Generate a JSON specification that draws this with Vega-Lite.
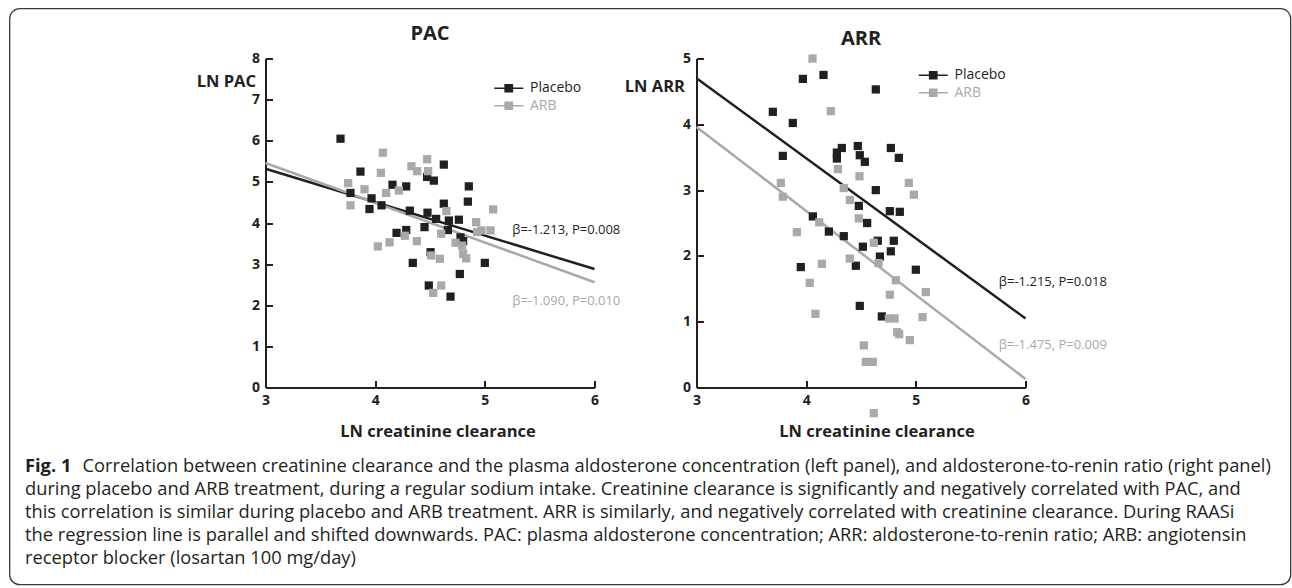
{
  "$schema": "https://vega.github.io/schema/vega-lite/v6.json",
  "autosize": {"type": "pad"},
  "padding": {"left": 8.5, "top": 7.5, "right": 1, "bottom": 3},
  "background": "white",
  "config": {
    "view": {"stroke": null},
    "font": "Open Sans",
    "axis": {
      "domainColor": "#231f20", "domainWidth": 2,
      "tickColor": "#231f20", "tickWidth": 2, "tickSize": -7,
      "labelPadding": 13, "labelFont": "Open Sans", "labelFontWeight": "bold",
      "labelFontSize": 14, "labelColor": "#231f20", "labelFlush": false, "labelOverlap": false,
      "grid": false, "titleFont": "Open Sans", "titleFontWeight": "bold",
      "titleFontSize": 16.5, "titleColor": "#231f20"
    }
  },
  "datasets": {
    "caption": [
      {"part": "bold", "line": 0, "text": "Fig. 1"},
      {"part": "first", "line": 0, "text": "Correlation between creatinine clearance and the plasma aldosterone concentration (left panel), and aldosterone-to-renin ratio (right panel)"},
      {"part": "rest", "line": 1, "text": "during placebo and ARB treatment, during a regular sodium intake. Creatinine clearance is significantly and negatively correlated with PAC, and"},
      {"part": "rest", "line": 2, "text": "this correlation is similar during placebo and ARB treatment. ARR is similarly, and negatively correlated with creatinine clearance. During RAASi"},
      {"part": "rest", "line": 3, "text": "the regression line is parallel and shifted downwards. PAC: plasma aldosterone concentration; ARR: aldosterone-to-renin ratio; ARB: angiotensin"},
      {"part": "rest", "line": 4, "text": "receptor blocker (losartan 100 mg/day)"}
    ],
    "pac": [
      {"group": "Placebo", "clearance": 3.684, "value": 6.05},
      {"group": "Placebo", "clearance": 3.866, "value": 5.25},
      {"group": "Placebo", "clearance": 3.775, "value": 4.73},
      {"group": "Placebo", "clearance": 3.967, "value": 4.60},
      {"group": "Placebo", "clearance": 3.948, "value": 4.34},
      {"group": "Placebo", "clearance": 4.058, "value": 4.43},
      {"group": "Placebo", "clearance": 4.158, "value": 4.93},
      {"group": "Placebo", "clearance": 4.283, "value": 4.89},
      {"group": "Placebo", "clearance": 4.316, "value": 4.30},
      {"group": "Placebo", "clearance": 4.195, "value": 3.76},
      {"group": "Placebo", "clearance": 4.283, "value": 3.83},
      {"group": "Placebo", "clearance": 4.343, "value": 3.03},
      {"group": "Placebo", "clearance": 4.477, "value": 4.25},
      {"group": "Placebo", "clearance": 4.450, "value": 3.90},
      {"group": "Placebo", "clearance": 4.556, "value": 4.10},
      {"group": "Placebo", "clearance": 4.474, "value": 5.12},
      {"group": "Placebo", "clearance": 4.535, "value": 5.03},
      {"group": "Placebo", "clearance": 4.626, "value": 5.42},
      {"group": "Placebo", "clearance": 4.626, "value": 4.47},
      {"group": "Placebo", "clearance": 4.672, "value": 4.06},
      {"group": "Placebo", "clearance": 4.663, "value": 3.83},
      {"group": "Placebo", "clearance": 4.763, "value": 4.08},
      {"group": "Placebo", "clearance": 4.778, "value": 3.65},
      {"group": "Placebo", "clearance": 4.802, "value": 3.56},
      {"group": "Placebo", "clearance": 4.854, "value": 4.89},
      {"group": "Placebo", "clearance": 4.845, "value": 4.52},
      {"group": "Placebo", "clearance": 4.505, "value": 3.29},
      {"group": "Placebo", "clearance": 4.489, "value": 2.48},
      {"group": "Placebo", "clearance": 4.687, "value": 2.21},
      {"group": "Placebo", "clearance": 4.772, "value": 2.76},
      {"group": "Placebo", "clearance": 5.000, "value": 3.03},
      {"group": "ARB", "clearance": 3.754, "value": 4.97},
      {"group": "ARB", "clearance": 3.775, "value": 4.43},
      {"group": "ARB", "clearance": 3.903, "value": 4.82},
      {"group": "ARB", "clearance": 4.070, "value": 5.71},
      {"group": "ARB", "clearance": 4.052, "value": 5.22},
      {"group": "ARB", "clearance": 4.100, "value": 4.73},
      {"group": "ARB", "clearance": 4.216, "value": 4.79},
      {"group": "ARB", "clearance": 4.024, "value": 3.43},
      {"group": "ARB", "clearance": 4.131, "value": 3.53},
      {"group": "ARB", "clearance": 4.271, "value": 3.69},
      {"group": "ARB", "clearance": 4.380, "value": 3.56},
      {"group": "ARB", "clearance": 4.331, "value": 5.38},
      {"group": "ARB", "clearance": 4.383, "value": 5.26},
      {"group": "ARB", "clearance": 4.474, "value": 5.55},
      {"group": "ARB", "clearance": 4.483, "value": 5.26},
      {"group": "ARB", "clearance": 4.650, "value": 4.29},
      {"group": "ARB", "clearance": 4.602, "value": 3.74},
      {"group": "ARB", "clearance": 4.511, "value": 3.21},
      {"group": "ARB", "clearance": 4.590, "value": 3.13},
      {"group": "ARB", "clearance": 4.733, "value": 3.52},
      {"group": "ARB", "clearance": 4.793, "value": 3.45},
      {"group": "ARB", "clearance": 4.802, "value": 3.25},
      {"group": "ARB", "clearance": 4.830, "value": 3.14},
      {"group": "ARB", "clearance": 4.921, "value": 4.02},
      {"group": "ARB", "clearance": 4.930, "value": 3.78},
      {"group": "ARB", "clearance": 4.970, "value": 3.82},
      {"group": "ARB", "clearance": 5.052, "value": 3.82},
      {"group": "ARB", "clearance": 5.076, "value": 4.33},
      {"group": "ARB", "clearance": 4.602, "value": 2.48},
      {"group": "ARB", "clearance": 4.529, "value": 2.30}
    ],
    "pacLines": [
      {"group": "Placebo", "clearance": 3, "value": 5.32},
      {"group": "Placebo", "clearance": 6, "value": 2.88},
      {"group": "ARB", "clearance": 3, "value": 5.46},
      {"group": "ARB", "clearance": 6, "value": 2.56}
    ],
    "pacNotes": [
      {"group": "Placebo", "clearance": 5.25, "value": 3.82, "label": "β=-1.213, P=0.008"},
      {"group": "ARB", "clearance": 5.25, "value": 2.115, "label": "β=-1.090, P=0.010"}
    ],
    "arr": [
      {"group": "Placebo", "clearance": 3.696, "value": 4.19},
      {"group": "Placebo", "clearance": 3.878, "value": 4.02},
      {"group": "Placebo", "clearance": 3.970, "value": 4.69},
      {"group": "Placebo", "clearance": 4.158, "value": 4.75},
      {"group": "Placebo", "clearance": 4.635, "value": 4.53},
      {"group": "Placebo", "clearance": 3.787, "value": 3.52},
      {"group": "Placebo", "clearance": 4.280, "value": 3.57},
      {"group": "Placebo", "clearance": 4.325, "value": 3.64},
      {"group": "Placebo", "clearance": 4.280, "value": 3.48},
      {"group": "Placebo", "clearance": 4.471, "value": 3.67},
      {"group": "Placebo", "clearance": 4.489, "value": 3.53},
      {"group": "Placebo", "clearance": 4.535, "value": 3.43},
      {"group": "Placebo", "clearance": 4.772, "value": 3.64},
      {"group": "Placebo", "clearance": 4.845, "value": 3.49},
      {"group": "Placebo", "clearance": 4.635, "value": 3.00},
      {"group": "Placebo", "clearance": 4.480, "value": 2.76},
      {"group": "Placebo", "clearance": 4.763, "value": 2.68},
      {"group": "Placebo", "clearance": 4.854, "value": 2.67},
      {"group": "Placebo", "clearance": 4.061, "value": 2.60},
      {"group": "Placebo", "clearance": 4.556, "value": 2.50},
      {"group": "Placebo", "clearance": 4.207, "value": 2.37},
      {"group": "Placebo", "clearance": 4.343, "value": 2.30},
      {"group": "Placebo", "clearance": 4.517, "value": 2.14},
      {"group": "Placebo", "clearance": 4.653, "value": 2.23},
      {"group": "Placebo", "clearance": 4.799, "value": 2.23},
      {"group": "Placebo", "clearance": 4.772, "value": 2.07},
      {"group": "Placebo", "clearance": 4.672, "value": 1.99},
      {"group": "Placebo", "clearance": 3.951, "value": 1.83},
      {"group": "Placebo", "clearance": 4.453, "value": 1.85},
      {"group": "Placebo", "clearance": 5.000, "value": 1.79},
      {"group": "Placebo", "clearance": 4.489, "value": 1.24},
      {"group": "Placebo", "clearance": 4.690, "value": 1.08},
      {"group": "ARB", "clearance": 4.058, "value": 5.00},
      {"group": "ARB", "clearance": 4.225, "value": 4.20},
      {"group": "ARB", "clearance": 4.289, "value": 3.32},
      {"group": "ARB", "clearance": 4.486, "value": 3.21},
      {"group": "ARB", "clearance": 3.769, "value": 3.11},
      {"group": "ARB", "clearance": 3.787, "value": 2.90},
      {"group": "ARB", "clearance": 4.343, "value": 3.03},
      {"group": "ARB", "clearance": 4.398, "value": 2.85},
      {"group": "ARB", "clearance": 4.480, "value": 2.57},
      {"group": "ARB", "clearance": 4.119, "value": 2.51},
      {"group": "ARB", "clearance": 3.915, "value": 2.36},
      {"group": "ARB", "clearance": 4.617, "value": 2.20},
      {"group": "ARB", "clearance": 4.398, "value": 1.96},
      {"group": "ARB", "clearance": 4.143, "value": 1.88},
      {"group": "ARB", "clearance": 4.660, "value": 1.89},
      {"group": "ARB", "clearance": 4.033, "value": 1.59},
      {"group": "ARB", "clearance": 4.818, "value": 1.63},
      {"group": "ARB", "clearance": 4.763, "value": 1.41},
      {"group": "ARB", "clearance": 5.091, "value": 1.45},
      {"group": "ARB", "clearance": 4.085, "value": 1.12},
      {"group": "ARB", "clearance": 4.754, "value": 1.05},
      {"group": "ARB", "clearance": 4.806, "value": 1.05},
      {"group": "ARB", "clearance": 5.061, "value": 1.07},
      {"group": "ARB", "clearance": 4.830, "value": 0.84},
      {"group": "ARB", "clearance": 4.848, "value": 0.81},
      {"group": "ARB", "clearance": 4.945, "value": 0.72},
      {"group": "ARB", "clearance": 4.526, "value": 0.64},
      {"group": "ARB", "clearance": 4.544, "value": 0.39},
      {"group": "ARB", "clearance": 4.608, "value": 0.39},
      {"group": "ARB", "clearance": 4.617, "value": -0.39},
      {"group": "ARB", "clearance": 4.936, "value": 3.11},
      {"group": "ARB", "clearance": 4.982, "value": 2.93}
    ],
    "arrLines": [
      {"group": "Placebo", "clearance": 3, "value": 4.70},
      {"group": "Placebo", "clearance": 6, "value": 1.05},
      {"group": "ARB", "clearance": 3, "value": 3.96},
      {"group": "ARB", "clearance": 6, "value": 0.13}
    ],
    "arrNotes": [
      {"group": "Placebo", "clearance": 5.757, "value": 1.596, "label": "β=-1.215, P=0.018"},
      {"group": "ARB", "clearance": 5.757, "value": 0.649, "label": "β=-1.475, P=0.009"}
    ]
  },
  "bounds": "flush",
  "align": "none",
  "spacing": -526,
  "vconcat": [
    {
      "width": 1281,
      "height": 576,
      "view": {"stroke": "#3a3a3a", "strokeWidth": 1.3, "cornerRadius": 10},
      "data": {"name": "caption"},
      "encoding": {
        "x": {"datum": 0, "type": "quantitative", "scale": {"domain": [0, 1]}, "axis": null},
        "y": {"field": "line", "type": "quantitative", "scale": {"domain": [-20.17, 4.87], "reverse": true, "nice": false, "zero": false}, "axis": null},
        "text": {"field": "text"}
      },
      "layer": [
        {
          "transform": [{"filter": "datum.part == 'bold'"}],
          "mark": {"type": "text", "align": "left", "baseline": "alphabetic", "fontSize": 18.3, "font": "Open Sans", "fontWeight": "bold", "color": "#231f20", "dx": 15.5}
        },
        {
          "transform": [{"filter": "datum.part == 'first'"}],
          "mark": {"type": "text", "align": "left", "baseline": "alphabetic", "fontSize": 18.3, "font": "Open Sans", "color": "#231f20", "dx": 73}
        },
        {
          "transform": [{"filter": "datum.part == 'rest'"}],
          "mark": {"type": "text", "align": "left", "baseline": "alphabetic", "fontSize": 18.3, "font": "Open Sans", "color": "#231f20", "dx": 15.5}
        }
      ]
    },
    {
      "bounds": "flush",
      "spacing": 102,
      "resolve": {"scale": {"color": "independent"}, "legend": {"color": "independent"}},
      "hconcat": [
        {
          "width": 154,
          "height": 329,
          "data": {"values": []},
          "mark": "point"
        },
        {
          "width": 329,
          "height": 329,
          "title": {"text": "PAC", "fontSize": 20, "fontWeight": "bold", "font": "Open Sans", "baseline": "alphabetic", "offset": 18, "dy": 26, "color": "#231f20"},
          "encoding": {
            "x": {"field": "clearance", "type": "quantitative", "scale": {"domain": [3, 6], "nice": false, "zero": false},
                  "axis": {"values": [3, 4, 5, 6], "format": "d", "title": "LN creatinine clearance", "titleX": 172, "titleY": 49, "titleBaseline": "alphabetic"}},
            "y": {"field": "value", "type": "quantitative", "scale": {"domain": [0, 8], "nice": false},
                  "axis": {"values": [0, 1, 2, 3, 4, 5, 6, 7, 8], "format": "d", "title": "LN PAC", "titleAngle": 0, "titleAlign": "right", "titleBaseline": "middle", "titleX": -10, "titleY": 23}},
            "color": {"field": "group", "type": "nominal",
                      "scale": {"domain": ["Placebo", "ARB"], "range": ["#231f20", "#a7a9ac"]},
                      "legend": {"title": null, "orient": "none", "legendX": 235.25, "legendY": 21.75,
                                 "symbolType": "M-2,0L2,0M-0.5,-0.5L0.5,-0.5L0.5,0.5L-0.5,0.5Z", "symbolSize": 210,
                                 "symbolStrokeWidth": 1.5, "labelFont": "Open Sans", "labelFontSize": 14,
                                 "labelOffset": 13.25, "rowPadding": 2.5, "padding": 0,
                                 "encode": {
                                   "symbols": {"update": {"stroke": {"signal": "datum.value === 'ARB' ? '#a7a9ac' : '#231f20'"}, "fill": {"signal": "datum.value === 'ARB' ? '#a7a9ac' : '#231f20'"}, "opacity": {"value": 1}, "strokeWidth": {"value": 1.5}}},
                                   "labels": {"update": {"fill": {"signal": "datum.value === 'ARB' ? '#a7a9ac' : '#231f20'"}}}
                                 }}}
          },
          "layer": [
            {"data": {"name": "pacLines"}, "mark": {"type": "line", "strokeWidth": 2.5, "clip": false}},
            {"data": {"name": "pac"}, "mark": {"type": "square", "size": 68, "opacity": 1, "filled": true}},
            {"data": {"name": "pacNotes"}, "mark": {"type": "text", "align": "left", "baseline": "middle", "fontSize": 13, "font": "Open Sans"}, "encoding": {"text": {"field": "label"}}}
          ]
        },
        {
          "width": 329,
          "height": 329,
          "title": {"text": "ARR", "fontSize": 20, "fontWeight": "bold", "font": "Open Sans", "baseline": "alphabetic", "offset": 12, "dy": 25, "color": "#231f20"},
          "encoding": {
            "x": {"field": "clearance", "type": "quantitative", "scale": {"domain": [3, 6], "nice": false, "zero": false},
                  "axis": {"values": [3, 4, 5, 6], "format": "d", "title": "LN creatinine clearance", "titleX": 180, "titleY": 49, "titleBaseline": "alphabetic"}},
            "y": {"field": "value", "type": "quantitative", "scale": {"domain": [0, 5], "nice": false},
                  "axis": {"values": [0, 1, 2, 3, 4, 5], "format": "d", "title": "LN ARR", "titleAngle": 0, "titleAlign": "right", "titleBaseline": "middle", "titleX": -12, "titleY": 28}},
            "color": {"field": "group", "type": "nominal",
                      "scale": {"domain": ["Placebo", "ARB"], "range": ["#231f20", "#a7a9ac"]},
                      "legend": {"title": null, "orient": "none", "legendX": 228.75, "legendY": 8.75,
                                 "symbolType": "M-2,0L2,0M-0.5,-0.5L0.5,-0.5L0.5,0.5L-0.5,0.5Z", "symbolSize": 210,
                                 "symbolStrokeWidth": 1.5, "labelFont": "Open Sans", "labelFontSize": 14,
                                 "labelOffset": 13.25, "rowPadding": 2.5, "padding": 0,
                                 "encode": {
                                   "symbols": {"update": {"stroke": {"signal": "datum.value === 'ARB' ? '#a7a9ac' : '#231f20'"}, "fill": {"signal": "datum.value === 'ARB' ? '#a7a9ac' : '#231f20'"}, "opacity": {"value": 1}, "strokeWidth": {"value": 1.5}}},
                                   "labels": {"update": {"fill": {"signal": "datum.value === 'ARB' ? '#a7a9ac' : '#231f20'"}}}
                                 }}}
          },
          "layer": [
            {"data": {"name": "arrLines"}, "mark": {"type": "line", "strokeWidth": 2.5, "clip": false}},
            {"data": {"name": "arr"}, "mark": {"type": "square", "size": 68, "opacity": 1, "filled": true, "clip": false}},
            {"data": {"name": "arrNotes"}, "mark": {"type": "text", "align": "left", "baseline": "middle", "fontSize": 13, "font": "Open Sans"}, "encoding": {"text": {"field": "label"}}}
          ]
        }
      ]
    }
  ]
}
